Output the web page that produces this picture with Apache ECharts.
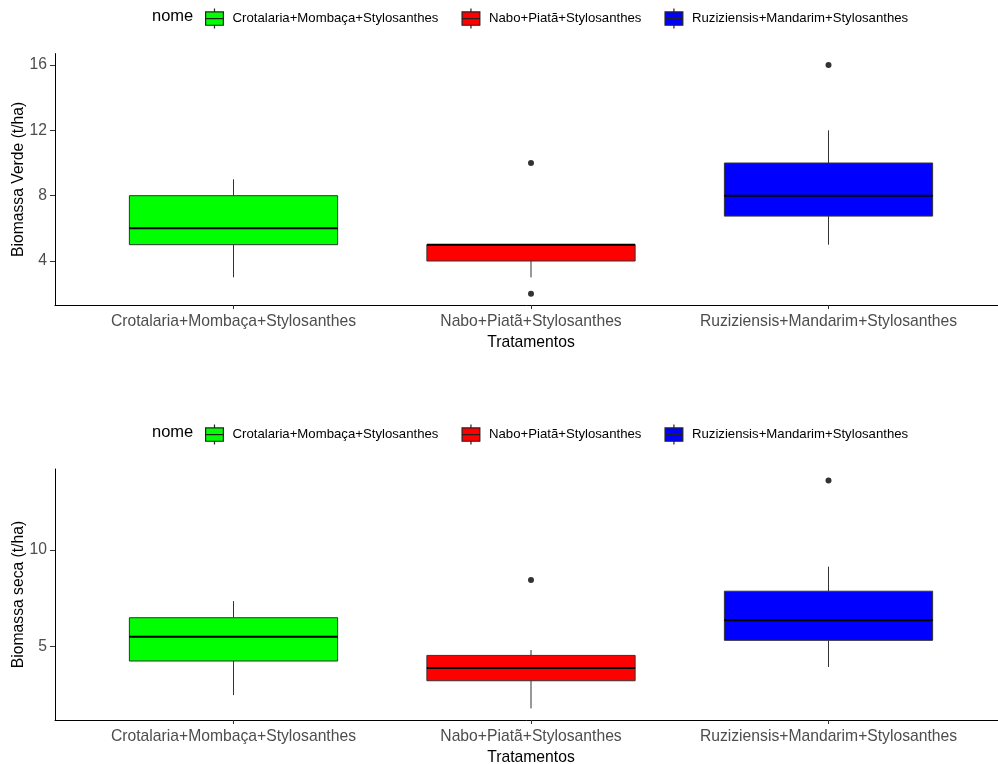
<!DOCTYPE html>
<html>
<head>
<meta charset="utf-8">
<title>Biomassa</title>
<script src="https://cdn.jsdelivr.net/npm/echarts@6/dist/echarts.min.js"></script>
<style>
  html, body { margin: 0; padding: 0; background: #fff; }
  #chart { width: 998px; height: 764px; }
</style>
</head>
<body>
<div id="chart"></div>
<script>
const treatments = [
  'Crotalaria+Mombaça+Stylosanthes',
  'Nabo+Piatã+Stylosanthes',
  'Ruziziensis+Mandarim+Stylosanthes'
];
const colors = ['#00FF00', '#FF0000', '#0000FF'];

// [min, q1, median, q3, max]
const verdeBox = [
  [3, 5, 6, 8, 9],
  [3, 4, 5, 5, 5],
  [5, 6.75, 8, 10, 12]
];
const verdeOutliers = [[], [10, 2], [16]];
const verdeTicks = [4, 8, 12, 16];

const secaBox = [
  [2.5, 4.26, 5.52, 6.5, 7.36],
  [1.81, 3.24, 3.9, 4.55, 4.83],
  [3.95, 5.33, 6.37, 7.87, 9.14]
];
const secaOutliers = [[], [8.45], [13.59]];
const secaTicks = [5, 10];

const catPos = [1, 2, 3];

const font = 'Liberation Sans, Arial, sans-serif';
const myChart = echarts.init(document.getElementById('chart'));

const renderBox = (params, api) => {
  const x = api.value(0);
  const half = api.size([0.7, 0])[0] / 2;
  const lo = api.coord([x, api.value(1)]);
  const q1 = api.coord([x, api.value(2)]);
  const med = api.coord([x, api.value(3)]);
  const q3 = api.coord([x, api.value(4)]);
  const hi = api.coord([x, api.value(5)]);
  const cx = lo[0];
  const line = (y1, y2) => ({
    type: 'line',
    shape: { x1: cx, y1: y1, x2: cx, y2: y2 },
    style: { stroke: '#333', lineWidth: 1 }
  });
  return {
    type: 'group',
    children: [
      line(hi[1], q3[1]),
      line(q1[1], lo[1]),
      {
        type: 'rect',
        shape: { x: cx - half, y: q3[1], width: half * 2, height: q1[1] - q3[1] },
        style: { fill: api.visual('color'), stroke: '#333', lineWidth: 1 }
      },
      {
        type: 'line',
        shape: { x1: cx - half, y1: med[1], x2: cx + half, y2: med[1] },
        style: { stroke: '#000', lineWidth: 2 }
      }
    ]
  };
};

const xAxisFor = (gridIndex) => ({
  type: 'value',
  gridIndex: gridIndex,
  min: 0.4,
  max: 3.6,
  name: 'Tratamentos',
  nameLocation: 'middle',
  nameGap: 30,
  nameMoveOverlap: false,
  nameTextStyle: { color: '#000', fontSize: 15.7, fontFamily: font },
  axisLine: { show: true, onZero: false, lineStyle: { color: '#000', width: 1 } },
  axisTick: { show: true, length: 4, customValues: catPos, lineStyle: { color: '#333' } },
  axisLabel: {
    customValues: catPos,
    formatter: (v) => treatments[Math.round(v) - 1],
    color: '#4D4D4D',
    fontSize: 15.7,
    fontFamily: font,
    margin: 9
  },
  splitLine: { show: false }
});

const yAxisFor = (gridIndex, name, min, max, ticks) => ({
  type: 'value',
  gridIndex: gridIndex,
  min: min,
  max: max,
  name: name,
  nameLocation: 'middle',
  nameGap: 28,
  nameMoveOverlap: false,
  nameTextStyle: { color: '#000', fontSize: 15.7, fontFamily: font },
  axisLine: { show: true, lineStyle: { color: '#000', width: 1 } },
  axisTick: { show: true, length: 5, customValues: ticks, lineStyle: { color: '#333' } },
  axisLabel: { customValues: ticks, color: '#4D4D4D', fontSize: 15.7, fontFamily: font, margin: 8 },
  splitLine: { show: false }
});

const series = [];
const addPanel = (idx, boxes, outliers) => {
  treatments.forEach((t, i) => {
    series.push({
      name: t,
      type: 'custom',
      xAxisIndex: idx,
      yAxisIndex: idx,
      itemStyle: { color: colors[i] },
      renderItem: renderBox,
      encode: { x: 0, y: [1, 2, 3, 4, 5] },
      data: [[catPos[i]].concat(boxes[i])]
    });
  });
  const pts = [];
  outliers.forEach((list, i) => list.forEach((v) => pts.push([catPos[i], v])));
  series.push({
    type: 'scatter',
    xAxisIndex: idx,
    yAxisIndex: idx,
    symbolSize: 6,
    itemStyle: { color: '#000' },
    data: pts
  });
};
addPanel(0, verdeBox, verdeOutliers);
addPanel(1, secaBox, secaOutliers);

const legendIcon = 'path://M8,0L8,3M0,3L16,3L16,15L0,15ZM0,9L16,9M8,15L8,18';
const legendFor = (top) => ({
  left: 200,
  top: top,
  itemWidth: 26,
  itemHeight: 20,
  itemGap: 23,
  icon: legendIcon,
  itemStyle: { borderColor: '#222', borderWidth: 1.2 },
  textStyle: { color: '#000', fontSize: 13.2, fontFamily: font },
  data: treatments
});

const option = {
  animation: false,
  tooltip: { show: false },
  graphic: [
    { type: 'text', left: 152, top: 8, style: { text: 'nome', fontSize: 16.5, fontFamily: font, fill: '#000' } },
    { type: 'text', left: 152, top: 424, style: { text: 'nome', fontSize: 16.5, fontFamily: font, fill: '#000' } }
  ],
  legend: [legendFor(3), legendFor(419)],
  grid: [
    { left: 55, top: 53.6, width: 952, height: 251.5, containLabel: false, outerBoundsMode: 'none' },
    { left: 55, top: 469, width: 952, height: 251, containLabel: false, outerBoundsMode: 'none' }
  ],
  xAxis: [xAxisFor(0), xAxisFor(1)],
  yAxis: [
    yAxisFor(0, 'Biomassa Verde (t/ha)', 1.3, 16.7, verdeTicks),
    yAxisFor(1, 'Biomassa seca (t/ha)', 1.21, 14.19, secaTicks)
  ],
  series: series
};

myChart.setOption(option);
window.addEventListener('resize', () => myChart.resize());
</script>
</body>
</html>
